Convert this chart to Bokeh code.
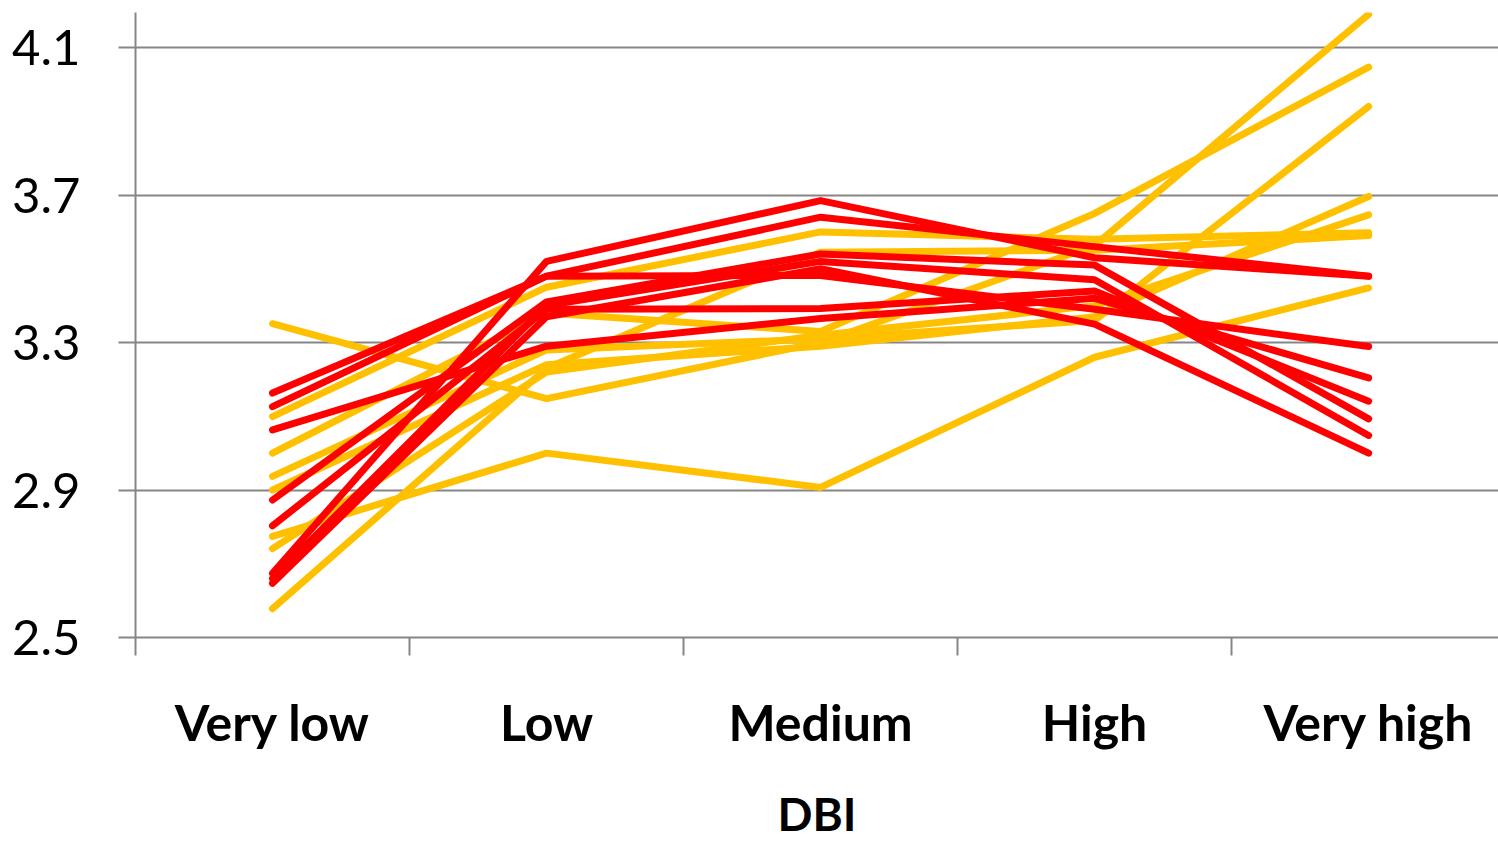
from bokeh.plotting import figure
from bokeh.models import Range1d, FixedTicker
from bokeh.embed import file_html
from bokeh.resources import INLINE

categories = ["Very low", "Low", "Medium", "High", "Very high"]
x_label = "DBI"
y_ticks = [2.5, 2.9, 3.3, 3.7, 4.1]

yellow_series = [
    [3.351, 3.148, 3.30, 3.563, 4.19],
    [3.099, 3.45, 3.60, 3.58, 3.598],
    [3.000, 3.38, 3.33, 3.65, 4.047],
    [2.937, 3.28, 3.31, 3.36, 3.94],
    [2.900, 3.24, 3.29, 3.37, 3.696],
    [2.741, 3.22, 3.32, 3.40, 3.646],
    [2.774, 3.00, 2.907, 3.26, 3.448],
    [2.578, 3.23, 3.545, 3.55, 3.59],
]

red_series = [
    [2.674, 3.52, 3.685, 3.53, 3.48],
    [3.163, 3.48, 3.64, 3.56, 3.48],
    [3.126, 3.48, 3.482, 3.39, 3.289],
    [3.063, 3.29, 3.365, 3.42, 3.204],
    [2.873, 3.41, 3.54, 3.51, 3.093],
    [2.803, 3.39, 3.392, 3.44, 3.141],
    [2.647, 3.37, 3.50, 3.35, 3.000],
    [2.660, 3.40, 3.52, 3.47, 3.048],
]

YELLOW = "#FFC000"
RED = "#FF0000"
GRAY = "#868686"

xs = list(range(len(categories)))

p = figure(width=1498, height=844, output_backend="svg", toolbar_location=None,
           x_range=Range1d(-0.5, 4.474), y_range=Range1d(2.5, 4.195),
           min_border_left=135, min_border_right=0, min_border_top=12,
           min_border_bottom=207)
p.outline_line_color = None
p.background_fill_color = "white"

for s in yellow_series:
    p.line(xs, s, line_color=YELLOW, line_width=7, line_cap="round", line_join="round")
for s in red_series:
    p.line(xs, s, line_color=RED, line_width=7, line_cap="round", line_join="round")

# y axis
p.yaxis.ticker = FixedTicker(ticks=y_ticks)
p.yaxis.axis_line_color = GRAY
p.yaxis.axis_line_width = 2
p.yaxis.major_tick_line_color = GRAY
p.yaxis.major_tick_line_width = 2
p.yaxis.major_tick_in = 0
p.yaxis.major_tick_out = 17
p.yaxis.minor_tick_line_color = None
p.yaxis.major_label_text_font = "Lato"
p.yaxis.major_label_text_font_size = "49px"
p.yaxis.major_label_text_color = "black"
p.yaxis.major_label_standoff = 38

p.ygrid.ticker = FixedTicker(ticks=y_ticks)
p.ygrid.grid_line_color = GRAY
p.ygrid.grid_line_width = 2
p.xgrid.visible = False

# x axis
p.xaxis.ticker = FixedTicker(ticks=xs, minor_ticks=[-0.5, 0.5, 1.5, 2.5, 3.5, 4.5])
p.xaxis.major_label_overrides = {i: c for i, c in enumerate(categories)}
p.xaxis.axis_line_color = GRAY
p.xaxis.axis_line_width = 2
p.xaxis.major_tick_line_color = None
p.xaxis.major_tick_out = 0
p.xaxis.major_tick_in = 0
p.xaxis.minor_tick_line_color = GRAY
p.xaxis.minor_tick_line_width = 2
p.xaxis.minor_tick_in = 0
p.xaxis.minor_tick_out = 18
p.xaxis.major_label_text_font = "Lato"
p.xaxis.major_label_text_font_style = "bold"
p.xaxis.major_label_text_font_size = "50px"
p.xaxis.major_label_text_color = "black"
p.xaxis.major_label_standoff = 36
p.xaxis.axis_label = x_label
p.xaxis.axis_label_text_font = "Lato"
p.xaxis.axis_label_text_font_style = "bold"
p.xaxis.axis_label_text_font_size = "46px"
p.xaxis.axis_label_text_color = "black"
p.xaxis.axis_label_standoff = 31

open("out.html", "w").write(file_html(p, INLINE))
